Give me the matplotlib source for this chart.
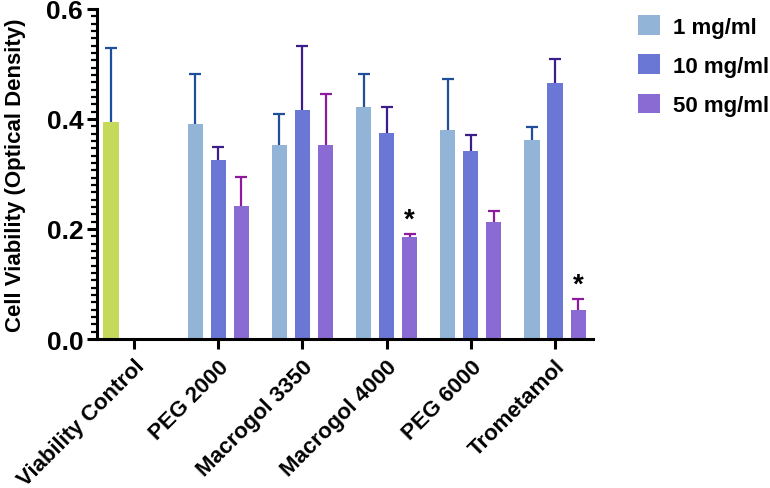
import numpy as np
import matplotlib
matplotlib.use("Agg")
import matplotlib.pyplot as plt
from matplotlib.ticker import AutoMinorLocator
from matplotlib.patches import Patch

plt.rcParams['font.family'] = ['Liberation Sans', 'DejaVu Sans']
plt.rcParams['font.weight'] = 'bold'

categories = ["Viability Control", "PEG 2000", "Macrogol 3350", "Macrogol 4000", "PEG 6000", "Trometamol"]
series = ["1 mg/ml", "10 mg/ml", "50 mg/ml"]

control_mean = 0.394
control_err = 0.135

mean_1 = [0.390, 0.353, 0.421, 0.380, 0.362]
err_1 = [0.091, 0.056, 0.060, 0.092, 0.024]
mean_10 = [0.325, 0.417, 0.375, 0.341, 0.466]
err_10 = [0.024, 0.116, 0.047, 0.029, 0.043]
mean_50 = [0.241, 0.352, 0.186, 0.213, 0.053]
err_50 = [0.054, 0.093, 0.005, 0.020, 0.020]
significant_50 = [False, False, True, False, True]

bar_colors = ["#92B4D6", "#6B77D4", "#8A6BD4"]
err_colors = ["#1F4E9A", "#3B1E8C", "#8E1A9E"]
control_color = "#C5D95A"

fig = plt.figure(figsize=(7.7, 4.89), dpi=100)
ax = fig.add_axes([0.126, 0.3047, 0.644, 0.675])

width = 0.18
offset = 0.274
x = np.arange(1, len(categories))


def upper_err(pos, m, e, color):
    m = np.atleast_1d(m)
    e = np.atleast_1d(e)
    pos = np.atleast_1d(pos)
    _, caps, _ = ax.errorbar(pos, m, yerr=[np.zeros(len(m)), e], fmt='none',
                             ecolor=color, elinewidth=1.6, capsize=4, capthick=1.6, zorder=1)
    caps[0].set_visible(False)


# Control bar
ax.bar(0 - offset, control_mean, width, color=control_color, zorder=2)
upper_err(0 - offset, control_mean, control_err, err_colors[0])

for i, (m, e) in enumerate([(mean_1, err_1), (mean_10, err_10), (mean_50, err_50)]):
    pos = x + (i - 1) * offset
    ax.bar(pos, m, width, color=bar_colors[i], zorder=2)
    upper_err(pos, m, e, err_colors[i])

for k, sig in enumerate(significant_50):
    if sig:
        ax.text(x[k] + offset, mean_50[k] + err_50[k] + 0.002, "*", ha='center', va='bottom',
                fontsize=20, fontweight='bold', color='black')

ax.set_xlim(-0.44, 5.45)
ax.set_ylim(0, 0.6)
ax.set_xticks(np.arange(len(categories)))
ax.set_xticklabels(categories, rotation=45, ha='right', rotation_mode='anchor',
                   fontsize=16, fontweight='bold')
ax.set_yticks([0.0, 0.2, 0.4, 0.6])
ax.set_yticklabels(["0.0", "0.2", "0.4", "0.6"], fontsize=19, fontweight='bold')
ax.yaxis.set_minor_locator(AutoMinorLocator(15))
ax.set_ylabel("Cell Viability (Optical Density)", fontsize=16, fontweight='bold', labelpad=15)

for s in ['top', 'right']:
    ax.spines[s].set_visible(False)
for s in ['left', 'bottom']:
    ax.spines[s].set_linewidth(2.2)
ax.tick_params(axis='both', which='major', length=7, width=2.2, pad=3)
ax.tick_params(axis='y', which='minor', length=4, width=1.6)
ax.tick_params(axis='x', which='major', pad=5)

handles = [Patch(facecolor=c) for c in bar_colors]
fig.legend(handles, series, loc='upper left', bbox_to_anchor=(0.802, 1.008), frameon=False,
           prop={'family': 'Liberation Sans', 'weight': 'bold', 'size': 16},
           handlelength=1.0, handleheight=1.0, handletextpad=0.6, labelspacing=0.75)

fig.savefig("out.png", dpi=100)
